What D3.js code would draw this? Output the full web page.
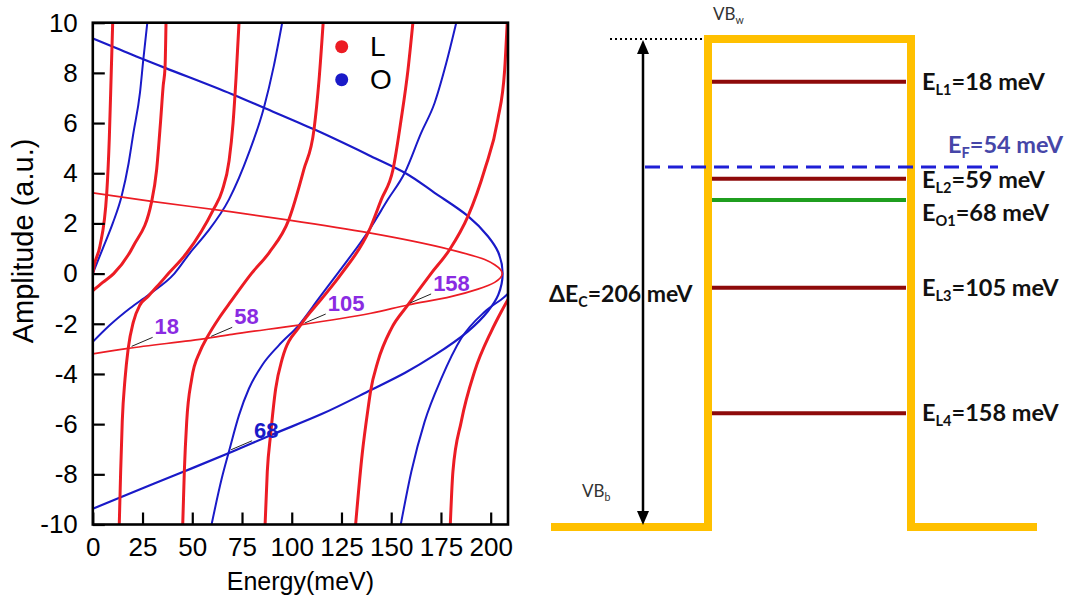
<!DOCTYPE html>
<html>
<head>
<meta charset="utf-8">
<script src="https://cdn.jsdelivr.net/npm/d3@7"></script>
<style>
  body { margin: 0; background: #fff; }
  svg { display: block; }
</style>
</head>
<body>
<svg id="chart" width="1075" height="604"></svg>
<script>
// ---------- Left panel data: amplitude (a.u.) vs energy (meV), points [E, A] ----------
// L branches (red), each ordered by energy
const lBranchA = [[0,0],[0.8,0.35],[3.6,1.1],[7.0,3.2],[8.3,5.4],[9.3,8.1],[10.0,10]];
const lBranchB = [[0,-0.68],[5,-0.35],[10.5,0],[20.4,1.1],[29.6,2.88],[32.1,4.15],[34.1,6.1],[35.4,7.5],[36.3,8.2],[36.8,10]];
const lBranch1 = [[13.3,-10],[14.0,-7.9],[14.8,-5.9],[16.2,-4.2],[17.8,-2.98],[20.4,-1.92],[23.7,-1.25],[27.9,-0.9],[33,-0.45],[38,0],[47.2,0.82],[60.6,2.55],[65,3.3],[68.5,4.5],[70.5,6.0],[72,7.8],[73.5,10]];
const lBranch2 = [[45.2,-10],[46.0,-7.9],[47.2,-5.9],[49.7,-4.2],[53.9,-3.1],[57.2,-2.58],[63.9,-1.72],[69.5,-1.1],[79.7,0],[88.5,0.82],[98.6,2.16],[106.1,4.15],[111.2,5.75],[113.7,7.7],[115.8,10]];
const lBranch3 = [[86.6,-10],[87.7,-7.9],[89.4,-6.4],[91.9,-4.6],[95.2,-3.4],[104.5,-2.05],[115.3,-0.98],[125,0],[138.8,1.7],[145,2.95],[150.9,4.15],[155,6.15],[158.4,8.1],[160.9,10]];
const lBranch4 = [[132.1,-10],[135.4,-7.2],[138.5,-5.3],[139.6,-4.7],[143.3,-3.5],[150,-2.2],[158.4,-1.25],[170,0],[179.4,0.96],[188.6,2.29],[197,4.15],[203.6,6.15],[207,8.1],[208.3,10]];
const lBranch5 = [[179.7,-10],[181,-7.9],[185.2,-5.9],[191.9,-3.9],[200.3,-2.3],[205.3,-1.52],[209.5,-0.92]];

// O branches (blue), each ordered by energy
const oBranch1 = [[0,0],[5,1.0],[10,2.0],[14.5,3.09],[18,4.4],[20.4,5.6],[23.7,7.2],[25.4,8.54],[27.4,10]];
const oBranch2 = [[0,-2.72],[8.6,-2.05],[18.7,-1.38],[27.9,-0.85],[41,0],[48.8,0.82],[57.2,1.62],[68.4,2.95],[78.5,4.82],[86,6.61],[91,8.28],[95.2,10]];
const oBranch3 = [[59.7,-10],[64.8,-8.17],[68.4,-7.1],[73.5,-5.64],[78.5,-4.58],[85.2,-3.64],[93.6,-2.85],[103.6,-2.05],[113.7,-0.98],[123,0],[139,1.75],[148.3,2.95],[156.8,4.02],[165,5.6],[171.8,6.8],[177.7,8.4],[182.7,10]];
const oBranch4 = [[154.8,-10],[160.1,-7.9],[166.8,-5.9],[175.2,-4.18],[185.2,-2.58],[197,-1.52],[207,-0.92],[210,-0.7]];

// Closed envelopes, ordered from the upper branch down to the lower one
const lEnvelope = [[0,3.22],[29.6,2.88],[69,2.47],[98.6,2.13],[139,1.62],[179.4,0.96],[197,0.56],[202,0.35],[205.8,0],[202,-0.35],[193.6,-0.62],[180,-0.92],[158.4,-1.25],[139.8,-1.58],[103.6,-2.05],[70,-2.42],[57.2,-2.58],[17.8,-2.98],[0,-3.2]];
const oEnvelope = [[0,9.37],[12,8.98],[25.4,8.54],[36.3,8.2],[70,7.15],[86,6.61],[111.2,5.75],[139.8,4.68],[156.8,4.02],[171.8,3.22],[188.6,2.29],[198.6,1.49],[203.8,0.85],[206,0],[203.8,-0.85],[198.6,-1.5],[188.6,-2.3],[171.8,-3.25],[157,-3.95],[139.8,-4.64],[115,-5.6],[89.4,-6.44],[70,-7.1],[45.5,-7.9],[13.7,-8.92],[0,-9.37]];

const energyTicks = [0, 25, 50, 75, 100, 125, 150, 175, 200];
const amplitudeTicks = [-10, -8, -6, -4, -2, 0, 2, 4, 6, 8, 10];

// Crossing annotations: energy (meV), amplitude at the crossing, series
const markEnergies = [18, 58, 105, 158, 68];
const markAmplitudes = [-2.98, -2.58, -2.05, -1.25, -7.1];
const markSeries = ["L", "L", "L", "L", "O"];

const legendSeries = ["L", "O"];

// ---------- Right panel data: band diagram (meV below VB_w) ----------
const barrierHeight = 206;
const fermiLevel = 54;
const levelNames = ["L1", "L2", "O1", "L3", "L4"];
const levelEnergies = [18, 59, 68, 105, 158];

// ---------- Drawing ----------
const svg = d3.select("#chart");
const RED = "#ec1c24", BLUE = "#1a1ac8", PURPLE = "#8a2be2";
const seriesColor = { L: RED, O: BLUE };

const x = d3.scaleLinear().domain([0, 208.7]).range([92.8, 508]);
const y = d3.scaleLinear().domain([-10, 10]).range([524.5, 22.7]);

const plot = svg.append("g");
svg.append("defs").append("clipPath").attr("id", "plotClip")
  .append("rect")
  .attr("x", x(0)).attr("y", y(10))
  .attr("width", x.range()[1] - x(0)).attr("height", y(-10) - y(10));

const curves = plot.append("g").attr("clip-path", "url(#plotClip)");
const lineE = d3.line().x(d => x(d[0])).y(d => y(d[1])).curve(d3.curveMonotoneX);
const lineA = d3.line().x(d => x(d[0])).y(d => y(d[1])).curve(d3.curveMonotoneY);

// blue branches
curves.selectAll(".oBranch").data([oBranch1, oBranch2, oBranch3, oBranch4]).join("path")
  .attr("d", lineE).attr("fill", "none").attr("stroke", BLUE).attr("stroke-width", 2);
// envelopes
curves.append("path").datum(oEnvelope).attr("d", lineA)
  .attr("fill", "none").attr("stroke", BLUE).attr("stroke-width", 2.2);
curves.append("path").datum(lEnvelope).attr("d", lineA)
  .attr("fill", "none").attr("stroke", RED).attr("stroke-width", 1.7);
// red branches
curves.selectAll(".lBranch").data([lBranchA, lBranchB, lBranch1, lBranch2, lBranch3, lBranch4, lBranch5]).join("path")
  .attr("d", lineE).attr("fill", "none").attr("stroke", RED).attr("stroke-width", 3);

// axes with inward ticks
const tickFont = "'Liberation Sans', Arial, sans-serif";
const yAxis = plot.append("g").attr("transform", `translate(${x(0)},0)`)
  .call(d3.axisLeft(y).tickValues(amplitudeTicks).tickSizeInner(-12).tickSizeOuter(0)
    .tickPadding(15).tickFormat(d => String(d)));
const xAxis = plot.append("g").attr("transform", `translate(0,${y(-10)})`)
  .call(d3.axisBottom(x).tickValues(energyTicks).tickSizeInner(-12).tickSizeOuter(0)
    .tickPadding(13).tickFormat(d => String(d)));
[xAxis, yAxis].forEach(a => {
  a.select(".domain").remove();
  a.selectAll(".tick line").attr("stroke", "#000").attr("stroke-width", 2.2);
  a.selectAll(".tick text").attr("fill", "#000").style("font-family", tickFont).style("font-size", "26px");
});

// frame
plot.append("rect")
  .attr("x", x(0)).attr("y", y(10))
  .attr("width", x.range()[1] - x(0)).attr("height", y(-10) - y(10))
  .attr("fill", "none").attr("stroke", "#000").attr("stroke-width", 2.6);

// axis titles
plot.append("text").attr("x", (x(0) + x.range()[1]) / 2).attr("y", 590)
  .attr("text-anchor", "middle").style("font-family", tickFont).style("font-size", "25px")
  .text("Energy(meV)");
plot.append("text").attr("transform", "translate(33,241) rotate(-90)")
  .attr("text-anchor", "middle").style("font-family", tickFont).style("font-size", "29px")
  .text("Amplitude (a.u.)");

// legend
const legend = plot.append("g");
legendSeries.forEach((s, i) => {
  legend.append("circle").attr("cx", 341.7).attr("cy", 46.7 + i * 33).attr("r", 6.5)
    .attr("fill", seriesColor[s]);
  legend.append("text").attr("x", 370).attr("y", 56 + i * 33)
    .style("font-family", tickFont).style("font-size", "28px").attr("fill", "#000").text(s);
});

// crossing annotations
markEnergies.forEach((e, i) => {
  const px = x(e), py = y(markAmplitudes[i]);
  plot.append("line").attr("x1", px + 3).attr("y1", py - 2).attr("x2", px + 24).attr("y2", py - 11)
    .attr("stroke", "#222").attr("stroke-width", 1);
  plot.append("text").attr("x", px + 26).attr("y", py - 14)
    .style("font-family", tickFont).style("font-size", "22px").style("font-weight", "bold")
    .attr("fill", markSeries[i] === "L" ? PURPLE : BLUE)
    .text(e);
});

// ---------- Right panel ----------
const band = svg.append("g");
const yE = d3.scaleLinear().domain([0, barrierHeight]).range([39, 527]);
const wellLeft = 708, wellRight = 911, outerLeft = 551, outerRight = 1037;
const bandFont = "Lato, 'Open Sans', sans-serif";
const GOLD = "#ffc000", DARKRED = "#8e0a0a", GREEN = "#1f9e1f";
const LABEL = 23.5;

// dotted reference at the top of the barrier
band.append("line").attr("x1", 610).attr("x2", wellLeft - 4).attr("y1", yE(0)).attr("y2", yE(0))
  .attr("stroke", "#000").attr("stroke-width", 2).attr("stroke-dasharray", "2,3");

// quantum well profile
band.append("path")
  .attr("d", `M${outerLeft},${yE(barrierHeight)} H${wellLeft} V${yE(0)} H${wellRight} V${yE(barrierHeight)} H${outerRight}`)
  .attr("fill", "none").attr("stroke", GOLD).attr("stroke-width", 8).attr("stroke-linejoin", "miter");

// barrier height double arrow
const ax = 643, aTop = yE(0) + 1, aBot = yE(barrierHeight) - 2;
band.append("line").attr("x1", ax).attr("x2", ax).attr("y1", aTop + 10).attr("y2", aBot - 10)
  .attr("stroke", "#000").attr("stroke-width", 2.5);
band.append("path").attr("d", `M${ax},${aTop} L${ax - 6},${aTop + 14} L${ax + 6},${aTop + 14} Z`).attr("fill", "#000");
band.append("path").attr("d", `M${ax},${aBot} L${ax - 6},${aBot - 14} L${ax + 6},${aBot - 14} Z`).attr("fill", "#000");

function subText(g, tx, ty, main, sub, rest, size, color, weight) {
  const t = g.append("text").attr("x", tx).attr("y", ty)
    .style("font-family", bandFont).style("font-size", size + "px")
    .style("font-weight", weight).attr("fill", color);
  t.append("tspan").text(main);
  t.append("tspan").attr("dy", size * 0.22).style("font-size", (size * 0.62) + "px").text(sub);
  if (rest) t.append("tspan").attr("dy", -size * 0.22).text(rest);
  return t;
}

// Fermi level
band.append("line").attr("x1", 645).attr("x2", 998).attr("y1", yE(fermiLevel)).attr("y2", yE(fermiLevel))
  .attr("stroke", "#1f1fd6").attr("stroke-width", 3).attr("stroke-dasharray", "15,8");
subText(band, 948, yE(fermiLevel) - 14, "E", "F", `=${fermiLevel} meV`, LABEL, "#4646a8", "bold");

// confined levels
const labelShift = { L1: 8, L2: 9, O1: 21, L3: 8, L4: 8 };
levelNames.forEach((n, i) => {
  const ly = yE(levelEnergies[i]);
  band.append("line").attr("x1", wellLeft + 4).attr("x2", wellRight - 5).attr("y1", ly).attr("y2", ly)
    .attr("stroke", n[0] === "O" ? GREEN : DARKRED).attr("stroke-width", 4);
  subText(band, 922, ly + labelShift[n], "E", n, `=${levelEnergies[i]} meV`, LABEL, "#111", "bold");
});

// barrier label and band edge names
subText(band, 549, (yE(0) + yE(barrierHeight)) / 2 + 19, "\u0394E", "C", `=${barrierHeight} meV`, 23, "#111", "bold");
subText(band, 713, yE(0) - 19, "VB", "w", "", 17, "#333", "normal");
subText(band, 582, yE(barrierHeight) - 30, "VB", "b", "", 17, "#333", "normal");
</script>
</body>
</html>
